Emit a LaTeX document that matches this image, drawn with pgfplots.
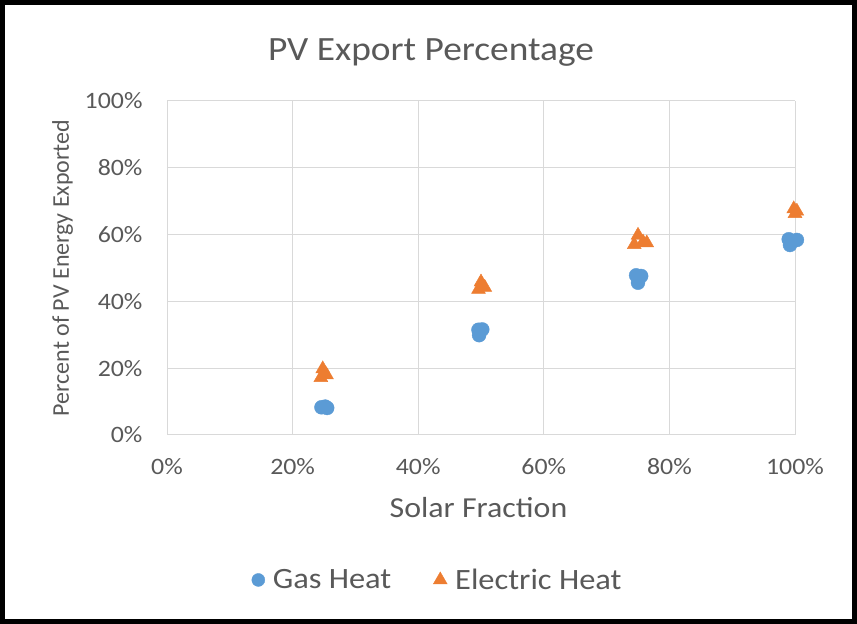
\documentclass[border=0pt]{standalone}
\usepackage{pgfplots}
\pgfplotsset{compat=1.18}
\usepackage{fontspec}
\setmainfont{Carlito}[FakeStretch=1.1]
\newfontfamily\plainfont{Carlito}
\definecolor{gasblue}{HTML}{5B9BD5}
\definecolor{elecorange}{HTML}{ED7D31}
\definecolor{txtgray}{HTML}{595959}
\definecolor{gridgray}{HTML}{D9D9D9}
\begin{document}
\begin{tikzpicture}[x=1pt,y=1pt]
\useasboundingbox (0,0) rectangle (857,624);
\draw[line width=5pt] (2.5,2.5) rectangle (854.5,621.5);
\node[text=txtgray, font=\fontsize{34}{40}\selectfont] at (431,571) {PV Export Percentage};
\begin{axis}[
  at={(167pt,189pt)}, anchor=south west,
  scale only axis, width=628pt, height=334pt,
  xmin=0, xmax=100, ymin=0, ymax=100,
  xtick={0,20,40,60,80,100}, ytick={0,20,40,60,80,100},
  xticklabels={0\%,20\%,40\%,60\%,80\%,100\%},
  yticklabels={0\%,20\%,40\%,60\%,80\%,100\%},
  grid=major, major grid style={gridgray, line width=1pt},
  axis line style={gridgray, line width=1pt},
  axis x line*=bottom, axis y line*=left,
  tick style={draw=none},
  /pgf/number format/assume math mode=true,
  ticklabel style={text=txtgray, font=\fontsize{23.5}{28}\selectfont},
  xticklabel style={yshift=-20pt},
  yticklabel style={xshift=-21pt},
  xlabel={Solar Fraction},
  xlabel style={text=txtgray, font=\fontsize{29}{34}\selectfont, at={(axis description cs:0.496,-0.2186)}, anchor=center},
  ylabel={Percent of PV Energy Exported},
  ylabel style={text=txtgray, font=\plainfont\fontsize{24}{28}\selectfont, at={(axis description cs:-0.1664,0.5)}, anchor=center, rotate=0},
  legend columns=2,
  legend style={at={(axis description cs:0.431,-0.434)}, anchor=center, draw=none, fill=none,
    font=\fontsize{29.5}{34}\selectfont, text=txtgray,
    /tikz/every odd column/.append style={column sep=6pt},
    /tikz/every even column/.append style={column sep=40pt}},
  legend cell align=left,
  clip=false,
]
\addplot[only marks, mark=*, mark size=7pt, color=gasblue, mark options={draw=gasblue, fill=gasblue},
  legend image post style={mark size=6.5pt}] coordinates {
(24.6,8.3) (25.2,8.5) (25.5,8.1)
(49.6,31.5) (49.7,29.9) (50.2,31.6)
(74.7,47.8) (75.5,47.6) (75.0,45.6)
(99.0,58.6) (100.3,58.4) (99.2,56.9)
};
\addlegendentry{Gas Heat}
\addplot[only marks, mark=triangle*, mark size=8pt, color=elecorange, mark options={draw=elecorange, fill=elecorange},
  legend image post style={mark size=8pt}] coordinates {
(24.8,19.8) (24.5,17.2) (25.4,18.0)
(50.0,45.8) (49.6,43.6) (50.6,44.2)
(75.0,59.8) (74.4,57.0) (75.8,57.8) (76.4,57.5)
(99.8,67.7) (100.0,66.3) (100.3,67.0)
};
\addlegendentry{Electric Heat}
\end{axis}
\end{tikzpicture}
\end{document}
